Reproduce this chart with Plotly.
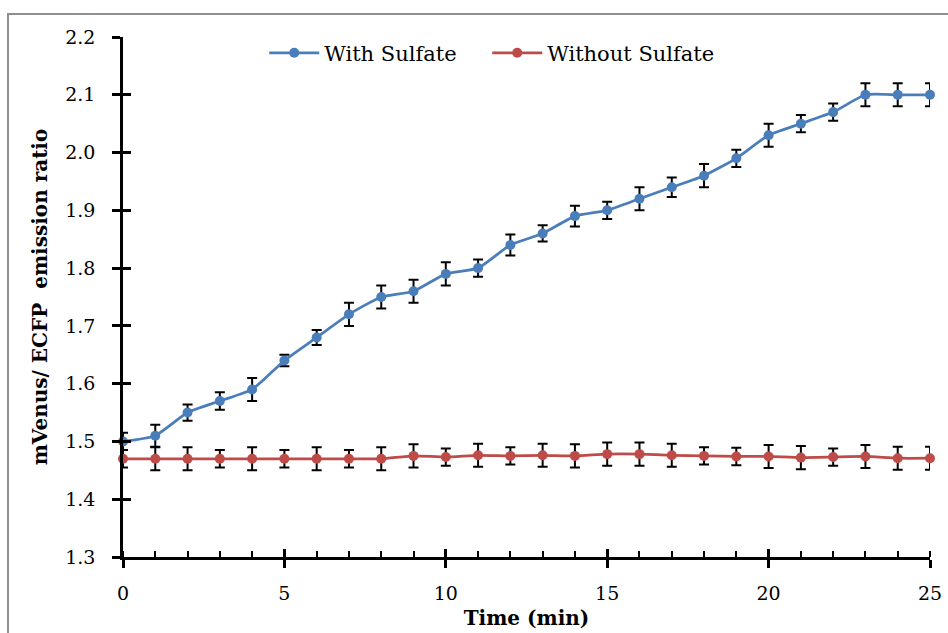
import plotly.graph_objects as go

time_min = list(range(26))
with_sulfate = [1.50, 1.51, 1.55, 1.57, 1.59, 1.64, 1.68, 1.72, 1.75, 1.76, 1.79, 1.80, 1.84,
                1.86, 1.89, 1.90, 1.92, 1.94, 1.96, 1.99, 2.03, 2.05, 2.07, 2.10, 2.10, 2.10]
with_err = [0.015, 0.019, 0.014, 0.015, 0.02, 0.01, 0.013, 0.02, 0.02, 0.02, 0.02, 0.015, 0.018,
            0.014, 0.018, 0.015, 0.02, 0.017, 0.02, 0.015, 0.02, 0.015, 0.015, 0.02, 0.02, 0.02]
without_sulfate = [1.47, 1.47, 1.47, 1.47, 1.47, 1.47, 1.47, 1.47, 1.47, 1.475, 1.473, 1.476, 1.475,
                   1.476, 1.475, 1.478, 1.478, 1.476, 1.475, 1.474, 1.474, 1.472, 1.473, 1.474, 1.471, 1.471]
without_err = [0.015, 0.02, 0.02, 0.015, 0.02, 0.015, 0.02, 0.015, 0.02, 0.02, 0.015, 0.02, 0.015,
               0.02, 0.02, 0.02, 0.02, 0.02, 0.015, 0.015, 0.02, 0.02, 0.015, 0.02, 0.02, 0.02]

BLUE = "#4a7ebb"
RED = "#be4b48"
FONT = "DejaVu Serif"

fig = go.Figure()
fig.add_trace(go.Scatter(
    x=time_min, y=with_sulfate, name="With Sulfate", mode="lines+markers",
    line=dict(color=BLUE, width=2.75, shape="spline", smoothing=0.5),
    marker=dict(color=BLUE, size=10), legendwidth=158,
    error_y=dict(type="data", array=with_err, color="black", thickness=2, width=5),
    cliponaxis=False))
fig.add_trace(go.Scatter(
    x=time_min, y=without_sulfate, name="Without Sulfate", mode="lines+markers",
    line=dict(color=RED, width=2.75, shape="spline", smoothing=0.5),
    marker=dict(color=RED, size=10), legendwidth=180,
    error_y=dict(type="data", array=without_err, color="black", thickness=2, width=5),
    cliponaxis=False))
# helper traces so overlay tick axes get drawn
fig.add_trace(go.Scatter(x=[], y=[], xaxis="x2", yaxis="y", showlegend=False, hoverinfo="skip"))
fig.add_trace(go.Scatter(x=[], y=[], xaxis="x", yaxis="y2", showlegend=False, hoverinfo="skip"))

fig.update_layout(
    width=948, height=633,
    margin=dict(l=123, r=18, t=37, b=76, autoexpand=False),
    paper_bgcolor="white", plot_bgcolor="white",
    font=dict(family=FONT, color="black", size=19),
    showlegend=True,
    legend=dict(orientation="h", x=0.175, y=0.969, xanchor="left", yanchor="middle",
                font=dict(size=21, family=FONT, color="black"), bgcolor="rgba(0,0,0,0)",
                itemwidth=50),
    xaxis=dict(range=[0, 25], tickmode="linear", tick0=0, dtick=5, automargin=False,
               ticks="outside", ticklen=8, tickwidth=2.5, tickcolor="black",
               showline=True, linecolor="black", linewidth=2.5,
               showgrid=False, zeroline=False,
               minor=dict(ticks="inside", dtick=1, ticklen=6, tickwidth=2, tickcolor="black", showgrid=False),
               ticklabelstandoff=9,
               tickfont=dict(size=19, family=FONT),
               title=dict(text="<b>Time (min)</b>", font=dict(size=20, family=FONT), standoff=9)),
    yaxis=dict(range=[1.3, 2.2], tickmode="linear", tick0=1.3, dtick=0.1, tickformat=".1f",
               automargin=False,
               ticks="outside", ticklen=8, tickwidth=2.5, tickcolor="black",
               showline=True, linecolor="black", linewidth=2.5,
               showgrid=False, zeroline=False,
               ticklabelstandoff=13,
               tickfont=dict(size=19, family=FONT),
               title=dict(text="<b>mVenus/ ECFP\u00a0 emission ratio</b>", font=dict(size=20, family=FONT), standoff=13)),
    xaxis2=dict(range=[0, 25], overlaying="x", anchor="y", side="bottom", automargin=False,
                tickmode="linear", tick0=0, dtick=5, ticks="inside", ticklen=8, tickwidth=2.5,
                tickcolor="black", showticklabels=False, showline=False, showgrid=False, zeroline=False),
    yaxis2=dict(range=[1.3, 2.2], overlaying="y", anchor="x", side="left", automargin=False,
                tickmode="linear", tick0=1.3, dtick=0.1, ticks="inside", ticklen=8, tickwidth=2.5,
                tickcolor="black", showticklabels=False, showline=False, showgrid=False, zeroline=False),
    shapes=[dict(type="rect", xref="paper", yref="paper", x0=-0.1425, y0=-0.2, x1=1.05, y1=1.044,
                 line=dict(color="#8f8f8f", width=2), fillcolor="rgba(0,0,0,0)", layer="below")],
)

fig.write_html("out.html")
